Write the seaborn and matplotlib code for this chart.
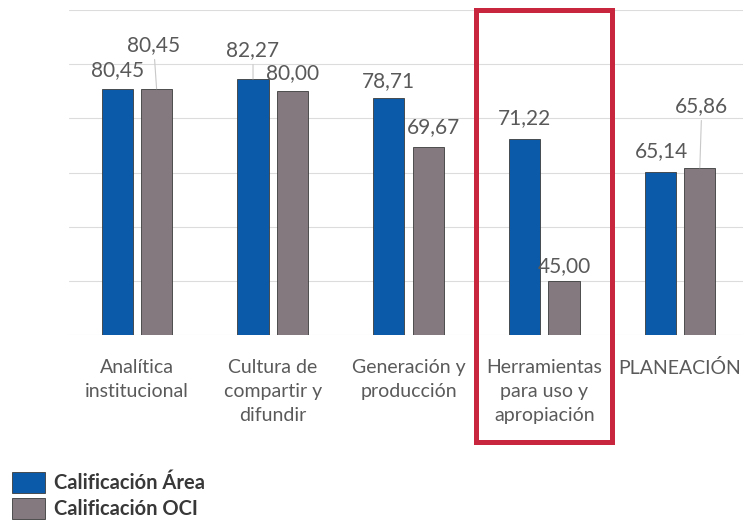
import pandas as pd
import matplotlib.pyplot as plt
import matplotlib.transforms as mtransforms
from matplotlib.patches import Rectangle
import seaborn as sns

# datos del grafico
categorias = ["Analítica\ninstitucional", "Cultura de\ncompartir y\ndifundir",
              "Generación y\nproducción", "Herramientas\npara uso y\napropiación",
              "PLANEACIÓN"]
series = ["Calificación Área", "Calificación OCI"]
calif_area = [80.45, 82.27, 78.71, 71.22, 65.14]
calif_oci = [80.45, 80.00, 69.67, 45.00, 65.86]

# desplazamiento de las etiquetas (px) y si llevan linea guia
offs_area = [(0, 19), (0, 29), (0, 17), (0, 21), (1, 21)]
offs_oci = [(-3, 44), (0, 18), (5, 20), (0, 15), (2, 62)]
guia_area = [False, True, False, False, False]
guia_oci = [True, False, False, False, True]

azul = "#0b59a9"
gris = "#84797f"

df = pd.DataFrame({
    "categoria": categorias * 2,
    "valor": calif_area + calif_oci,
    "serie": [series[0]] * len(categorias) + [series[1]] * len(categorias),
})

sns.set_theme(style="white")
plt.rcParams["font.family"] = ["Lato", "DejaVu Sans"]

fig = plt.figure(figsize=(7.43, 5.22), dpi=100)
ax = fig.add_axes([69 / 743, (522 - 335) / 522, 674 / 743, 325 / 522])

sns.barplot(data=df, x="categoria", y="valor", hue="serie", palette=[azul, gris],
            saturation=1, width=0.58, gap=0.21, edgecolor="#3c3c3c", linewidth=0.6, ax=ax)

ax.set_ylim(35, 95)
ax.set_xlim(-0.5, 4.463)
ax.set_yticks(range(35, 96, 10))
ax.yaxis.grid(True, color="#dcdcdc", lw=0.8)
ax.set_axisbelow(True)
sns.despine(ax=ax, left=True, bottom=True)
ax.tick_params(left=False, labelleft=False, bottom=False, pad=11,
               labelsize=14, labelcolor="#5a5a5a")
plt.setp(ax.get_xticklabels(), linespacing=1.52)
ax.set_xlabel("")
ax.set_ylabel("")

# etiquetas de valores
for cont, vals, offs, guias in [(ax.containers[0], calif_area, offs_area, guia_area),
                                (ax.containers[1], calif_oci, offs_oci, guia_oci)]:
    for bar, v, off, g in zip(cont, vals, offs, guias):
        x = bar.get_x() + bar.get_width() / 2
        props = dict(arrowstyle="-", color="#c8c8c8", lw=0.8, shrinkA=1, shrinkB=0) if g else None
        ax.annotate(f"{v:.2f}".replace(".", ","), xy=(x, v), xytext=off,
                    textcoords="offset pixels", ha="center", va="center",
                    fontsize=15, color="#595959", arrowprops=props,
                    annotation_clip=False)

# recuadro rojo
trans = mtransforms.blended_transform_factory(ax.transData, fig.transFigure)
ax.add_patch(Rectangle((2.5, 0.154), 1.0, 0.827, transform=trans, fill=False,
                       edgecolor="#c8253f", lw=3.6, clip_on=False))

# leyenda
handles, labels = ax.get_legend_handles_labels()
ax.legend_.remove()
fig.legend(handles, labels, loc="upper left", bbox_to_anchor=(12 / 743, 1 - 472 / 522),
           frameon=False, prop={"weight": "bold", "size": 14.5},
           handlelength=1.65, handleheight=1.2, handletextpad=0.42,
           labelspacing=0.25, borderpad=0, borderaxespad=0, labelcolor="#383838")

plt.savefig("out.png", dpi=100)
